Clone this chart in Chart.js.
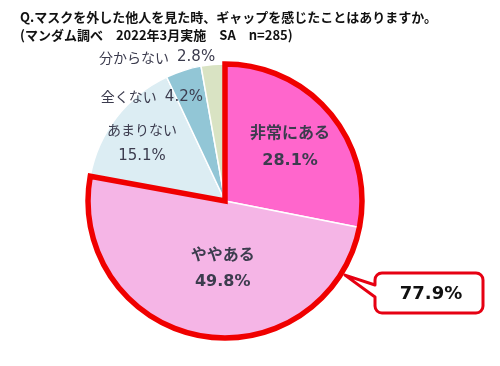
<!DOCTYPE html>
<html>
<head>
<meta charset="utf-8">
<script src="https://cdn.jsdelivr.net/npm/chart.js@4.4.1/dist/chart.umd.min.js"></script>
<style>
  html, body { margin: 0; padding: 0; background: #fff; }
  #wrap { width: 500px; height: 366px; }
</style>
</head>
<body>
<div id="wrap"><canvas id="chart" width="500" height="366"></canvas></div>
<script>
"use strict";
const titleLines = ['Q.マスクを外した他人を見た時、ギャップを感じたことはありますか。', '(マンダム調べ　2022年3月実施　SA　n=285)'];
const categories = ['非常にある', 'ややある', 'あまりない', '全くない', '分からない'];
const shares = [28.1, 49.8, 15.1, 4.2, 2.8];
const sliceColors = ['#ff66cc', '#f5b5e6', '#dcedf3', '#92c6d6', '#d9e3c3'];
const highlighted = [0, 1]; // slices inside the red outline

// where each label sits: angle from top (deg), distance as part of radius
const labelSpots = [
    { deg: 50, dist: 0.62, style: 'bold' },
    { deg: 182, dist: 0.49, style: 'bold' },
    { deg: 305, dist: 0.74, style: 'light' },
    { deg: 325, dist: 0.93, style: 'line' },
    { deg: 334.7, dist: 1.16, style: 'line' }
];
const FONT = '"Noto Sans CJK JP", "Noto Sans", sans-serif';
const NUMFONT = '"DejaVu Sans", ' + FONT;
const TEXT = '#3c3c4e';
const RED = '#f00000';

function fmt(v) { return v.toFixed(1) + '%'; }

const titlePlugin = {
    id: 'titleText',
    afterDraw(chart) {
        const ctx = chart.ctx;
        ctx.save();
        ctx.fillStyle = '#111';
        ctx.font = 'bold 13px ' + FONT;
        ctx.textBaseline = 'middle';
        ctx.textAlign = 'left';
        ctx.fillText(titleLines[0], 20, 17);
        ctx.fillText(titleLines[1], 20, 35);
        ctx.restore();
    }
};

const outlinePlugin = {
    id: 'outline',
    afterDatasetsDraw(chart) {
        const meta = chart.getDatasetMeta(0);
        const first = meta.data[highlighted[0]];
        const last = meta.data[highlighted[highlighted.length - 1]];
        const ctx = chart.ctx;
        ctx.save();
        ctx.beginPath();
        ctx.moveTo(first.x, first.y);
        ctx.arc(first.x, first.y, first.outerRadius, first.startAngle, last.endAngle);
        ctx.closePath();
        ctx.lineWidth = 5.5;
        ctx.lineJoin = 'miter';
        ctx.strokeStyle = RED;
        ctx.stroke();

        // callout with the total of the outlined slices
        let total = 0;
        highlighted.forEach(i => { total += shares[i]; });
        const tipAng = -Math.PI / 2 + 121.7 * Math.PI / 180;
        const tipR = first.outerRadius + 4;
        const tx = first.x + tipR * Math.cos(tipAng);
        const ty = first.y + tipR * Math.sin(tipAng);
        const bx = 375, by = 273, bw = 108, bh = 40, rr = 7;
        ctx.beginPath();
        ctx.moveTo(bx, by + 12);
        ctx.lineTo(tx, ty);
        ctx.lineTo(bx, by + 24);
        ctx.lineTo(bx, by + bh - rr);
        ctx.arcTo(bx, by + bh, bx + rr, by + bh, rr);
        ctx.lineTo(bx + bw - rr, by + bh);
        ctx.arcTo(bx + bw, by + bh, bx + bw, by + bh - rr, rr);
        ctx.lineTo(bx + bw, by + rr);
        ctx.arcTo(bx + bw, by, bx + bw - rr, by, rr);
        ctx.lineTo(bx + rr, by);
        ctx.arcTo(bx, by, bx, by + rr, rr);
        ctx.closePath();
        ctx.fillStyle = '#fff';
        ctx.fill();
        ctx.lineWidth = 3;
        ctx.strokeStyle = '#e60012';
        ctx.lineJoin = 'round';
        ctx.stroke();
        ctx.fillStyle = '#111';
        ctx.font = 'bold 18px ' + NUMFONT;
        ctx.textAlign = 'center';
        ctx.textBaseline = 'middle';
        ctx.fillText(fmt(total), bx + bw / 2 + 2, by + bh / 2 + 1);
        ctx.restore();
    }
};

const labelPlugin = {
    id: 'sliceLabels',
    afterDatasetsDraw(chart) {
        const meta = chart.getDatasetMeta(0);
        const ctx = chart.ctx;
        ctx.save();
        ctx.fillStyle = TEXT;
        ctx.textAlign = 'center';
        ctx.textBaseline = 'middle';
        meta.data.forEach((arc, i) => {
            const spot = labelSpots[i];
            const ang = -Math.PI / 2 + spot.deg * Math.PI / 180;
            const x = arc.x + arc.outerRadius * spot.dist * Math.cos(ang);
            const y = arc.y + arc.outerRadius * spot.dist * Math.sin(ang);
            if (spot.style === 'bold') {
                ctx.font = 'bold 16px ' + FONT;
                ctx.fillText(categories[i], x, y - 14);
                ctx.font = 'bold 16px ' + NUMFONT;
                ctx.fillText(fmt(shares[i]), x, y + 14);
            } else if (spot.style === 'light') {
                ctx.font = '14px ' + FONT;
                ctx.fillText(categories[i], x, y - 13);
                ctx.font = '15px ' + NUMFONT;
                ctx.fillText(fmt(shares[i]), x, y + 13);
            } else {
                ctx.font = '14px ' + FONT;
                const w1 = ctx.measureText(categories[i]).width;
                ctx.font = '15px ' + NUMFONT;
                const w2 = ctx.measureText(fmt(shares[i])).width;
                const gap = 8;
                const left = x - (w1 + gap + w2) / 2;
                ctx.textAlign = 'left';
                ctx.font = '14px ' + FONT;
                ctx.fillText(categories[i], left, y);
                ctx.font = '15px ' + NUMFONT;
                ctx.fillText(fmt(shares[i]), left + w1 + gap, y);
                ctx.textAlign = 'center';
            }
        });
        ctx.restore();
    }
};

new Chart(document.getElementById('chart'), {
    type: 'pie',
    data: {
        labels: categories,
        datasets: [{
            data: shares,
            backgroundColor: sliceColors,
            borderColor: '#ffffff',
            borderWidth: 1.5,
            radius: 137
        }]
    },
    options: {
        responsive: false,
        animation: false,
        layout: { padding: { left: 88, right: 138, top: 64, bottom: 28 } },
        plugins: {
            legend: { display: false },
            tooltip: { enabled: false }
        }
    },
    plugins: [outlinePlugin, labelPlugin, titlePlugin]
});
</script>
</body>
</html>
